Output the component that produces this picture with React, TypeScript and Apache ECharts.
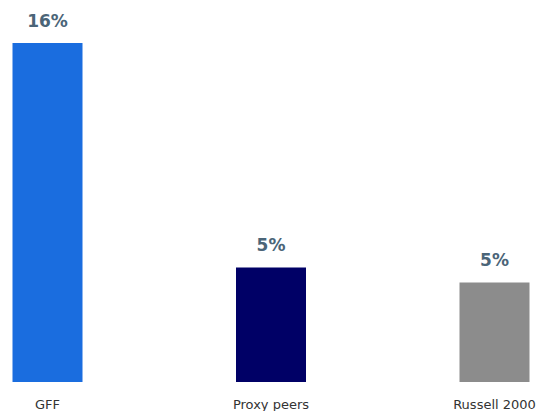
import React, { useEffect, useRef } from "react";
import * as echarts from "echarts";

const categories = ["GFF", "Proxy peers", "Russell 2000"];
const values = [16.0, 5.4, 4.7];
const colors = ["#1a6ddf", "#000066", "#8c8c8c"];

export default function App() {
  const ref = useRef<HTMLDivElement>(null);
  useEffect(() => {
    if (!ref.current) return;
    const chart = echarts.init(ref.current, undefined, { renderer: "svg" });
    chart.setOption({
      animation: false,
      grid: { left: 47.5, right: 44.5, top: 43, bottom: 29 },
      xAxis: {
        type: "category",
        data: categories,
        boundaryGap: false,
        axisLine: { show: false },
        axisTick: { show: false },
        axisLabel: {
          color: "#333333",
          fontSize: 13,
          fontFamily: "DejaVu Sans",
          margin: 16,
          interval: 0,
        },
      },
      yAxis: {
        type: "value",
        min: 0,
        max: 16,
        show: false,
        splitLine: { show: false },
      },
      series: [
        {
          type: "bar",
          barWidth: 70,
          data: values.map((v, i) => ({ value: v, itemStyle: { color: colors[i] } })),
          label: {
            show: true,
            position: "top",
            distance: 14,
            color: "#4b6578",
            fontSize: 17,
            fontWeight: "bold",
            fontFamily: "DejaVu Sans",
            formatter: (p: any) => Math.round(p.value) + "%",
          },
        },
      ],
    });
    return () => chart.dispose();
  }, []);
  return <div ref={ref} style={{ width: 539, height: 411, position: "absolute", left: 0, top: 0 }} />;
}
